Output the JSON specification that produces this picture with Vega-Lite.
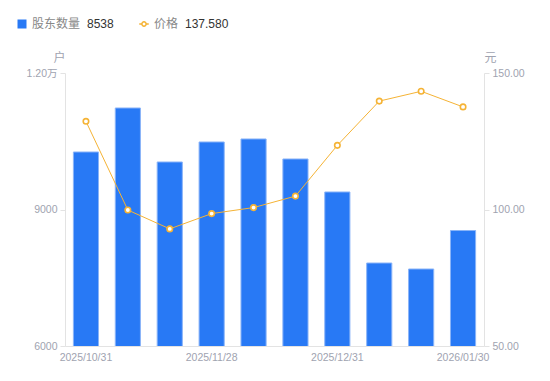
{
  "$schema": "https://vega.github.io/schema/vega-lite/v6.json",
  "width": 419,
  "height": 273,
  "autosize": {"type": "none"},
  "padding": {"left": 65, "top": 73, "right": 66, "bottom": 35},
  "background": "white",
  "config": {
    "view": {"stroke": null},
    "font": "Liberation Sans, Noto Sans CJK SC, sans-serif",
    "axis": {"labelFont": "Liberation Sans, Noto Sans CJK SC, sans-serif", "titleFont": "Noto Sans CJK SC, sans-serif"},
    "legend": {"labelFont": "Noto Sans CJK SC, sans-serif", "titleFont": "Liberation Sans, sans-serif"}
  },
  "data": {
    "values": [
      {"date": "2025/10/31", "holders": 10264, "price": 132.3},
      {"date": "2025/11/10", "holders": 11231, "price": 99.8},
      {"date": "2025/11/20", "holders": 10044, "price": 92.9},
      {"date": "2025/11/28", "holders": 10484, "price": 98.5},
      {"date": "2025/12/10", "holders": 10550, "price": 100.7},
      {"date": "2025/12/19", "holders": 10110, "price": 104.9},
      {"date": "2025/12/31", "holders": 9385, "price": 123.5},
      {"date": "2026/01/09", "holders": 7824, "price": 139.7},
      {"date": "2026/01/20", "holders": 7692, "price": 143.3},
      {"date": "2026/01/30", "holders": 8538, "price": 137.58}
    ]
  },
  "encoding": {
    "x": {
      "field": "date",
      "type": "ordinal",
      "sort": null,
      "scale": {"paddingInner": 0.4, "paddingOuter": 0.2},
      "axis": {
        "title": null,
        "labelAngle": 0,
        "values": ["2025/10/31", "2025/11/28", "2025/12/31", "2026/01/30"],
        "ticks": false,
        "domainColor": "#e3e3e3",
        "labelColor": "#a0a3b0",
        "labelFontSize": 10.5,
        "labelPadding": 6
      }
    }
  },
  "layer": [
    {
      "mark": {"type": "bar", "stroke": "#8ab4f8", "strokeWidth": 1, "clip": true},
      "encoding": {
        "y": {
          "field": "holders",
          "type": "quantitative",
          "scale": {"domain": [6000, 12000], "zero": false, "nice": false},
          "axis": {
            "orient": "left",
            "values": [6000, 9000, 12000],
            "labelExpr": "datum.value >= 10000 ? format(datum.value / 10000, '.2f') + '万' : format(datum.value, 'd')",
            "grid": false,
            "tickSize": 5,
            "tickColor": "#e3e3e3",
            "domainColor": "#e3e3e3",
            "labelColor": "#a0a3b0",
            "labelFontSize": 10.5,
            "labelPadding": 3,
            "title": "户",
            "titleAngle": 0,
            "titleX": -6,
            "titleY": -16,
            "titleAlign": "center",
            "titleBaseline": "middle",
            "titleColor": "#a0a3b0",
            "titleFontSize": 12,
            "titleFontWeight": "normal"
          }
        },
        "fill": {
          "datum": "股东数量",
          "type": "nominal",
          "scale": {"range": ["#2879F5"]},
          "legend": {
            "orient": "none",
            "legendX": -49,
            "legendY": -55,
            "title": "8538",
            "titleOrient": "right",
            "titleFontWeight": "normal",
            "titleFontSize": 12,
            "titleColor": "#333333",
            "titlePadding": 7,
            "titleBaseline": "middle",
            "symbolType": "square",
            "symbolSize": 81,
            "symbolStrokeWidth": 0,
            "labelFontSize": 12,
            "labelColor": "#888888"
          }
        }
      }
    },
    {
      "layer": [
        {
          "mark": {"type": "line", "strokeWidth": 1},
          "encoding": {
            "y": {"field": "price", "type": "quantitative"},
            "stroke": {
              "datum": "价格",
              "type": "nominal",
              "scale": {"range": ["#F5B335"]},
              "legend": {
                "orient": "none",
                "legendX": 73,
                "legendY": -55,
                "title": "137.580",
                "titleOrient": "right",
                "titleFontWeight": "normal",
                "titleFontSize": 12,
                "titleColor": "#333333",
                "titlePadding": 7,
                "titleBaseline": "middle",
                "symbolType": "M-1,0H-0.45M0.45,0H1M0.45,0A0.45,0.45 0 1,1 -0.45,0A0.45,0.45 0 1,1 0.45,0Z",
                "symbolSize": 90,
                "symbolFillColor": "white",
                "symbolStrokeWidth": 1.5,
                "labelFontSize": 12,
                "labelColor": "#888888"
              }
            }
          }
        },
        {
          "mark": {"type": "point", "filled": true, "fill": "white", "stroke": "#F5B335", "strokeWidth": 1.6, "size": 30, "opacity": 1},
          "encoding": {
            "y": {"field": "price", "type": "quantitative"}
          }
        }
      ],
      "encoding": {
        "y": {
          "field": "price",
          "type": "quantitative",
          "scale": {"domain": [50, 150], "zero": false, "nice": false},
          "axis": {
            "orient": "right",
            "values": [50, 100, 150],
            "format": ".2f",
            "grid": false,
            "tickSize": 5,
            "tickColor": "#e3e3e3",
            "domainColor": "#e3e3e3",
            "labelColor": "#a0a3b0",
            "labelFontSize": 10.5,
            "labelPadding": 3,
            "title": "元",
            "titleAngle": 0,
            "titleX": 6,
            "titleY": -16,
            "titleAlign": "center",
            "titleBaseline": "middle",
            "titleColor": "#a0a3b0",
            "titleFontSize": 12,
            "titleFontWeight": "normal"
          }
        }
      }
    }
  ],
  "resolve": {"scale": {"y": "independent"}}
}
